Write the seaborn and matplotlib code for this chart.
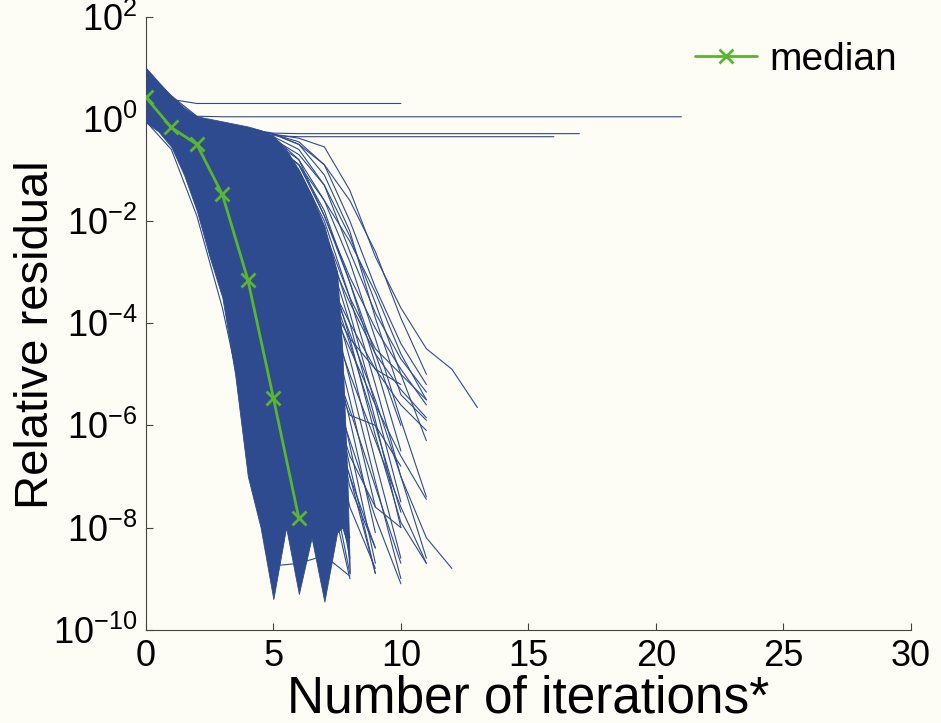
import numpy as np
import pandas as pd
import seaborn as sns
import matplotlib
matplotlib.use("Agg")
import matplotlib.pyplot as plt
from matplotlib.ticker import NullLocator

# ---------------------------------------------------------------------------
# Data (log10 of the relative residual, one value per iteration)
# ---------------------------------------------------------------------------
median_iter = [0, 1, 2, 3, 4, 5, 6]
median_log10 = [0.42, -0.17, -0.50, -1.48, -3.15, -5.46, -7.82]

# dense core of the runs: envelope over iteration number
band_iter = [0, 0.5, 1, 1.5, 2, 2.5, 3, 3.5, 4, 4.5, 5, 5.5, 6, 6.5, 7, 7.5,
             7.7, 7.9, 8.0]
band_upper_log10 = [1.0, 0.72, 0.45, 0.22, 0.05, 0.0, -0.05, -0.1, -0.15,
                    -0.22, -0.35, -0.6, -1.0, -1.5, -2.1, -3.0, -4.5, -7.0,
                    -8.9]
band_lower_log10 = [-0.07, -0.25, -0.55, -1.1, -1.8, -2.7, -3.5, -5.0, -7.0,
                    -8.0, -9.4, -8.0, -9.3, -8.2, -9.45, -8.1, -8.0, -8.3,
                    -8.9]

# runs that stall near the top
stall_runs = [
    [0.95, 0.38, 0.30, 0.30, 0.30, 0.30, 0.30, 0.30, 0.30, 0.30, 0.30],
    [0.9, 0.45, 0.05, 0.04, 0.04, 0.04, 0.04, 0.04, 0.04, 0.04, 0.04,
     0.04, 0.04, 0.04, 0.04, 0.04, 0.04, 0.04, 0.04, 0.04, 0.04, 0.04],
    [0.8, 0.35, 0.0, -0.1, -0.2, -0.28, -0.29, -0.29, -0.29, -0.29, -0.29,
     -0.29, -0.29, -0.29, -0.29, -0.29, -0.29, -0.29],
    [0.7, 0.3, -0.02, -0.12, -0.22, -0.33, -0.35, -0.35, -0.35, -0.35,
     -0.35, -0.35, -0.35, -0.35, -0.35, -0.35, -0.35],
]

# slower runs on the right edge of the bundle
slow_runs = [
    [0.6, 0.2, -0.05, -0.15, -0.25, -0.3, -0.38, -0.55, -1.4, -2.7, -3.7, -4.5, -4.9, -5.65],
    [0.5, 0.15, -0.05, -0.15, -0.2, -0.3, -0.45, -0.9, -2.0, -3.3, -4.4, -5.2],
    [0.5, 0.1, -0.1, -0.15, -0.25, -0.35, -0.6, -1.3, -2.6, -3.8, -4.7, -5.35],
    [0.4, 0.1, -0.1, -0.2, -0.3, -0.5, -0.9, -1.9, -3.1, -4.1, -4.9, -5.6],
    [0.4, 0.0, -0.1, -0.2, -0.35, -0.7, -1.4, -2.5, -3.6, -4.6, -5.3, -5.85],
    [0.3, 0.0, -0.15, -0.25, -0.4, -0.8, -1.8, -3.0, -4.0, -4.9, -5.6, -6.1],
    [0.3, -0.05, -0.15, -0.3, -0.5, -1.0, -2.1, -3.4, -4.5, -5.6, -6.6, -7.45],
    [0.5, 0.1, -0.1, -0.2, -0.35, -0.6, -1.5, -2.9, -4.2, -5.5, -7.0, -8.2, -8.8],
    [0.4, 0.05, -0.1, -0.25, -0.45, -1.1, -2.3, -3.6, -5.0, -6.3, -7.6, -8.7],
    [0.3, 0.0, -0.15, -0.3, -0.6, -1.5, -2.9, -4.3, -5.7, -7.2, -8.7],
    [0.3, -0.05, -0.2, -0.35, -0.7, -1.8, -3.3, -4.8, -6.3, -7.8, -9.1],
    [0.4, 0.0, -0.15, -0.3, -0.5, -1.2, -2.4, -3.4, -4.3, -4.9, -5.2],
    [0.2, -0.1, -0.3, -0.5, -0.9, -2.0, -3.3, -4.6, -5.8, -6.0, -6.8],
    [0.3, -0.05, -0.2, -0.4, -0.8, -1.9, -3.4, -5.0, -6.6, -7.6, -8.0],
    [0.2, -0.1, -0.25, -0.45, -1.0, -2.2, -3.7, -5.3, -7.0, -8.9],
    [0.2, -0.15, -0.3, -0.6, -1.3, -2.6, -4.1, -5.6, -7.0, -8.4],
    [0.5, 0.1, -0.1, -0.2, -0.3, -0.5, -0.9, -1.6, -2.4, -3.4, -4.6, -5.5],
    [0.6, 0.2, 0.0, -0.1, -0.2, -0.3, -0.5, -1.1, -2.2, -3.9, -5.4, -5.9],
    [0.6, 0.2, 0.0, -0.1, -0.2, -0.35, -0.8, -1.9, -3.2, -4.6, -6.0],
    [0.5, 0.15, -0.05, -0.15, -0.3, -0.7, -1.6, -2.9, -4.4, -6.0, -7.7],
    [0.5, 0.1, -0.05, -0.2, -0.3, -0.6, -1.2, -2.2, -3.5, -4.5, -5.0, -5.5],
]

# runs filling the edge between the dense core and the slow runs
edge_runs = [
    [0.5, 0.1, -0.05, -0.15, -0.25, -0.4, -0.7, -1.3, -2.3, -3.6, -5.0, -6.3],
    [0.5, 0.1, -0.05, -0.15, -0.25, -0.45, -0.8, -1.6, -2.8, -4.3, -5.9, -7.4],
    [0.4, 0.05, -0.1, -0.2, -0.3, -0.5, -0.9, -1.8, -3.2, -4.8, -6.5],
    [0.4, 0.05, -0.1, -0.2, -0.3, -0.55, -1.0, -2.0, -3.5, -5.2, -7.0, -8.6],
    [0.4, 0.0, -0.1, -0.2, -0.35, -0.6, -1.1, -2.2, -3.8, -5.6, -7.5],
    [0.3, 0.0, -0.1, -0.2, -0.35, -0.65, -1.2, -2.4, -4.0, -5.9, -8.0],
    [0.3, 0.0, -0.15, -0.25, -0.4, -0.7, -1.3, -2.6, -4.3, -6.2, -7.9, -8.7],
    [0.3, -0.05, -0.15, -0.25, -0.45, -0.75, -1.5, -2.9, -4.7, -6.7, -8.6],
    [0.3, -0.05, -0.15, -0.3, -0.5, -0.8, -1.7, -3.2, -5.1, -7.1, -9.0],
    [0.2, -0.1, -0.2, -0.3, -0.5, -0.9, -1.9, -3.5, -5.5, -7.6],
    [0.2, -0.1, -0.2, -0.35, -0.55, -1.0, -2.1, -3.8, -5.9, -8.1],
    [0.2, -0.1, -0.25, -0.4, -0.6, -1.1, -2.3, -4.2, -6.4, -8.7],
    [0.2, -0.1, -0.25, -0.4, -0.65, -1.2, -2.5, -4.5, -6.8, -8.9],
    [0.1, -0.15, -0.3, -0.45, -0.7, -1.4, -2.8, -4.9, -7.2, -8.4],
    [0.1, -0.15, -0.3, -0.5, -0.8, -1.6, -3.1, -5.3, -7.6, -8.8],
    [0.1, -0.2, -0.35, -0.55, -0.9, -1.8, -3.4, -5.7, -8.2],
    [0.1, -0.2, -0.35, -0.6, -1.0, -2.0, -3.7, -6.0, -8.6],
    [0.0, -0.2, -0.4, -0.65, -1.1, -2.2, -4.0, -6.4, -8.9],
    [0.0, -0.25, -0.4, -0.7, -1.2, -2.4, -4.3, -6.8, -9.0],
    [0.5, 0.1, -0.05, -0.1, -0.2, -0.3, -0.5, -0.9, -1.6, -2.6, -3.9, -5.0],
    [-0.05, -0.6, -1.9, -3.7, -6.0, -8.75, -8.7, -8.55, -8.95],
]

x_ticks = [0, 5, 10, 15, 20, 25, 30]
y_ticks = [1e-10, 1e-8, 1e-6, 1e-4, 1e-2, 1e0, 1e2]

run_color = "#2f4b8f"
median_color = "#5ab531"
bg_color = "#fdfdf5"

# ---------------------------------------------------------------------------
# long-form table of the individual runs for seaborn
# ---------------------------------------------------------------------------
rows = []
for run_id, run in enumerate(stall_runs + slow_runs + edge_runs):
    for it, val in enumerate(run):
        rows.append({"run": run_id, "iteration": it, "residual": 10.0 ** val})
runs_df = pd.DataFrame(rows)

median_df = pd.DataFrame({"iteration": median_iter,
                          "residual": 10.0 ** np.array(median_log10)})

# ---------------------------------------------------------------------------
# plot
# ---------------------------------------------------------------------------
sns.set_style("ticks")
plt.rcParams["font.family"] = ["Liberation Sans", "DejaVu Sans"]
plt.rcParams["mathtext.fontset"] = "custom"
plt.rcParams["mathtext.rm"] = "Liberation Sans"
plt.rcParams["mathtext.it"] = "Liberation Sans"
plt.rcParams["mathtext.default"] = "regular"
plt.rcParams["axes.unicode_minus"] = False
plt.rcParams["text.color"] = "black"
plt.rcParams["axes.labelcolor"] = "black"

fig = plt.figure(figsize=(9.41, 7.23), dpi=100, facecolor=bg_color)
ax = fig.add_axes([0.155, 0.129, 0.813, 0.848])
ax.set_facecolor(bg_color)
ax.set_yscale("log")

ax.fill_between(band_iter, 10.0 ** np.array(band_upper_log10),
                10.0 ** np.array(band_lower_log10),
                color=run_color, lw=0.6, zorder=2)

sns.lineplot(data=runs_df, x="iteration", y="residual", units="run",
             estimator=None, color=run_color, lw=0.8, ax=ax, zorder=3,
             legend=False)

sns.lineplot(data=median_df, x="iteration", y="residual", color=median_color,
             lw=2, marker="x", markersize=10, markeredgewidth=2,
             markeredgecolor=median_color, ax=ax, zorder=4, label="median")

ax.set_xlim(0, 30)
ax.set_ylim(1e-10, 1e2)
ax.set_xticks(x_ticks)
ax.set_yticks(y_ticks)
ax.yaxis.set_minor_locator(NullLocator())
ax.tick_params(axis="both", direction="in", length=5, width=0.8,
               labelsize=26, color="#444444", labelcolor="black")
ax.tick_params(axis="x", pad=7)
ax.tick_params(axis="y", pad=6)

for side in ["top", "right"]:
    ax.spines[side].set_visible(False)
for side in ["left", "bottom"]:
    ax.spines[side].set_color("#444444")
    ax.spines[side].set_linewidth(0.8)

ax.set_xlabel("Number of iterations*", fontsize=37, labelpad=0)
ax.set_ylabel("Relative residual", fontsize=34)
ax.yaxis.set_label_coords(-0.115, 0.481)

ax.legend(loc="upper right", bbox_to_anchor=(1.012, 0.997), frameon=False,
          fontsize=28, handlelength=1.6, handletextpad=0.3,
          borderaxespad=0.2)

fig.savefig("out.png", dpi=100, facecolor=bg_color)
